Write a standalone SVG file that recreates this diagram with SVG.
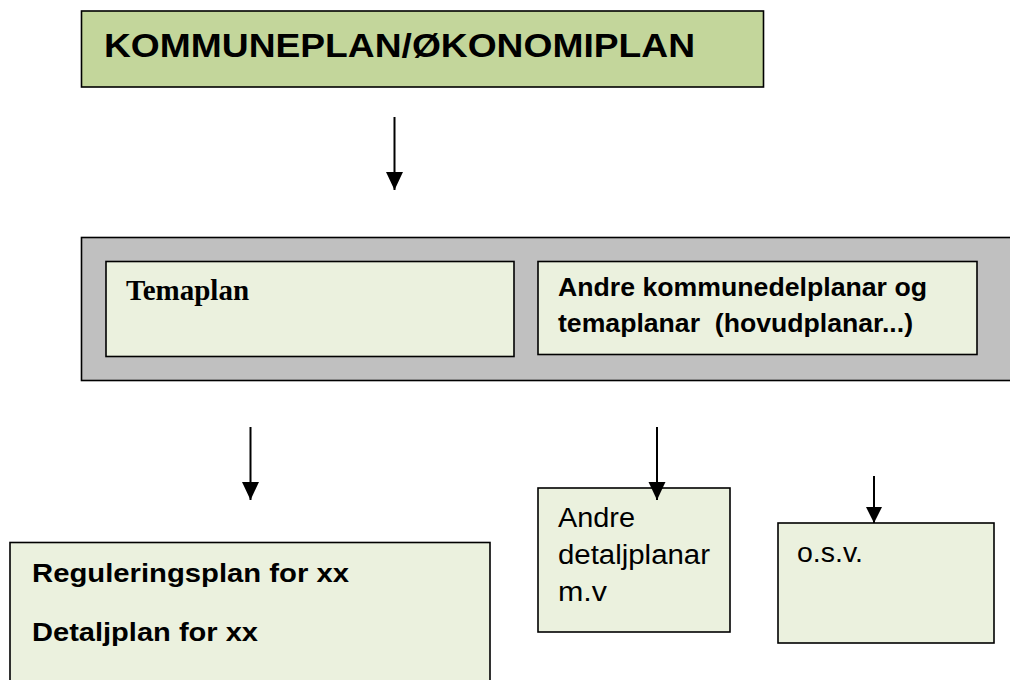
<svg xmlns="http://www.w3.org/2000/svg" width="1010" height="680" viewBox="0 0 1010 680">
<style>
.box{fill:#ebf1de;stroke:#000;stroke-width:1.6}
.main{fill:#c3d69b;stroke:#000;stroke-width:1.6}
.grey{fill:#c0c0c0;stroke:#000;stroke-width:1.6}
.sans{font-family:"Liberation Sans",Arial,sans-serif;fill:#000}
.b{font-weight:bold}
.serif{font-family:"Liberation Serif","Times New Roman",serif;font-weight:bold;fill:#000}
.conn{stroke:#000;stroke-width:2;fill:none}
</style>
<defs>
<marker id="ah" markerUnits="userSpaceOnUse" markerWidth="18" markerHeight="18" viewBox="0 -8 17 16" refX="17" refY="0" orient="auto">
<path d="M0,-8 L17,0 L0,8 z" fill="#000"/>
</marker>
<marker id="ahs" markerUnits="userSpaceOnUse" markerWidth="16" markerHeight="16" viewBox="0 -7.5 15 15" refX="15" refY="0" orient="auto">
<path d="M0,-7.5 L15,0 L0,7.5 z" fill="#000"/>
</marker>
</defs>
<rect width="1010" height="680" fill="#fff"/>
<g id="kommuneplan">
<rect class="main" x="81.5" y="11" width="682" height="76"/>
<text class="sans b" x="104" y="57" font-size="34" textLength="591" lengthAdjust="spacingAndGlyphs">KOMMUNEPLAN/ØKONOMIPLAN</text>
</g>
<g id="temaplanar-gruppe">
<rect class="grey" x="81.5" y="237.5" width="940" height="143"/>
</g>
<g id="temaplan">
<rect class="box" x="106" y="261.5" width="408" height="95"/>
<text class="serif" x="126" y="300" font-size="29">Temaplan</text>
</g>
<g id="andre-kommunedelplanar">
<rect class="box" x="538" y="261.5" width="439" height="93"/>
<text class="sans b" x="558" y="296" font-size="25" textLength="369" lengthAdjust="spacingAndGlyphs">Andre kommunedelplanar og</text>
<text class="sans b" x="558" y="332" font-size="25" textLength="355" lengthAdjust="spacingAndGlyphs" xml:space="preserve">temaplanar  (hovudplanar...)</text>
</g>
<g id="reguleringsplan">
<rect class="box" x="10" y="542.5" width="480" height="150"/>
<text class="sans b" x="32" y="582" font-size="25" textLength="317" lengthAdjust="spacingAndGlyphs">Reguleringsplan for xx</text>
<text class="sans b" x="32" y="641" font-size="25" textLength="226" lengthAdjust="spacingAndGlyphs">Detaljplan for xx</text>
</g>
<g id="andre-detaljplanar">
<rect class="box" x="538" y="488" width="192" height="144"/>
<text class="sans" x="558" y="527" font-size="27" textLength="77" lengthAdjust="spacingAndGlyphs">Andre</text>
<text class="sans" x="558" y="564" font-size="27" textLength="152" lengthAdjust="spacingAndGlyphs">detaljplanar</text>
<text class="sans" x="558" y="601" font-size="27" textLength="49" lengthAdjust="spacingAndGlyphs">m.v</text>
</g>
<g id="osv">
<rect class="box" x="778" y="523" width="216" height="120"/>
<text class="sans" x="797" y="562" font-size="27" textLength="66" lengthAdjust="spacingAndGlyphs">o.s.v.</text>
</g>
<g id="connectors">
<line class="conn" x1="394.5" y1="117" x2="394.5" y2="190" marker-end="url(#ah)"/>
<line class="conn" x1="250.5" y1="427" x2="250.5" y2="500" marker-end="url(#ah)"/>
<line class="conn" x1="657" y1="427" x2="657" y2="500" marker-end="url(#ah)"/>
<line class="conn" x1="874" y1="476" x2="874" y2="523" marker-end="url(#ahs)"/>
</g>
</svg>
